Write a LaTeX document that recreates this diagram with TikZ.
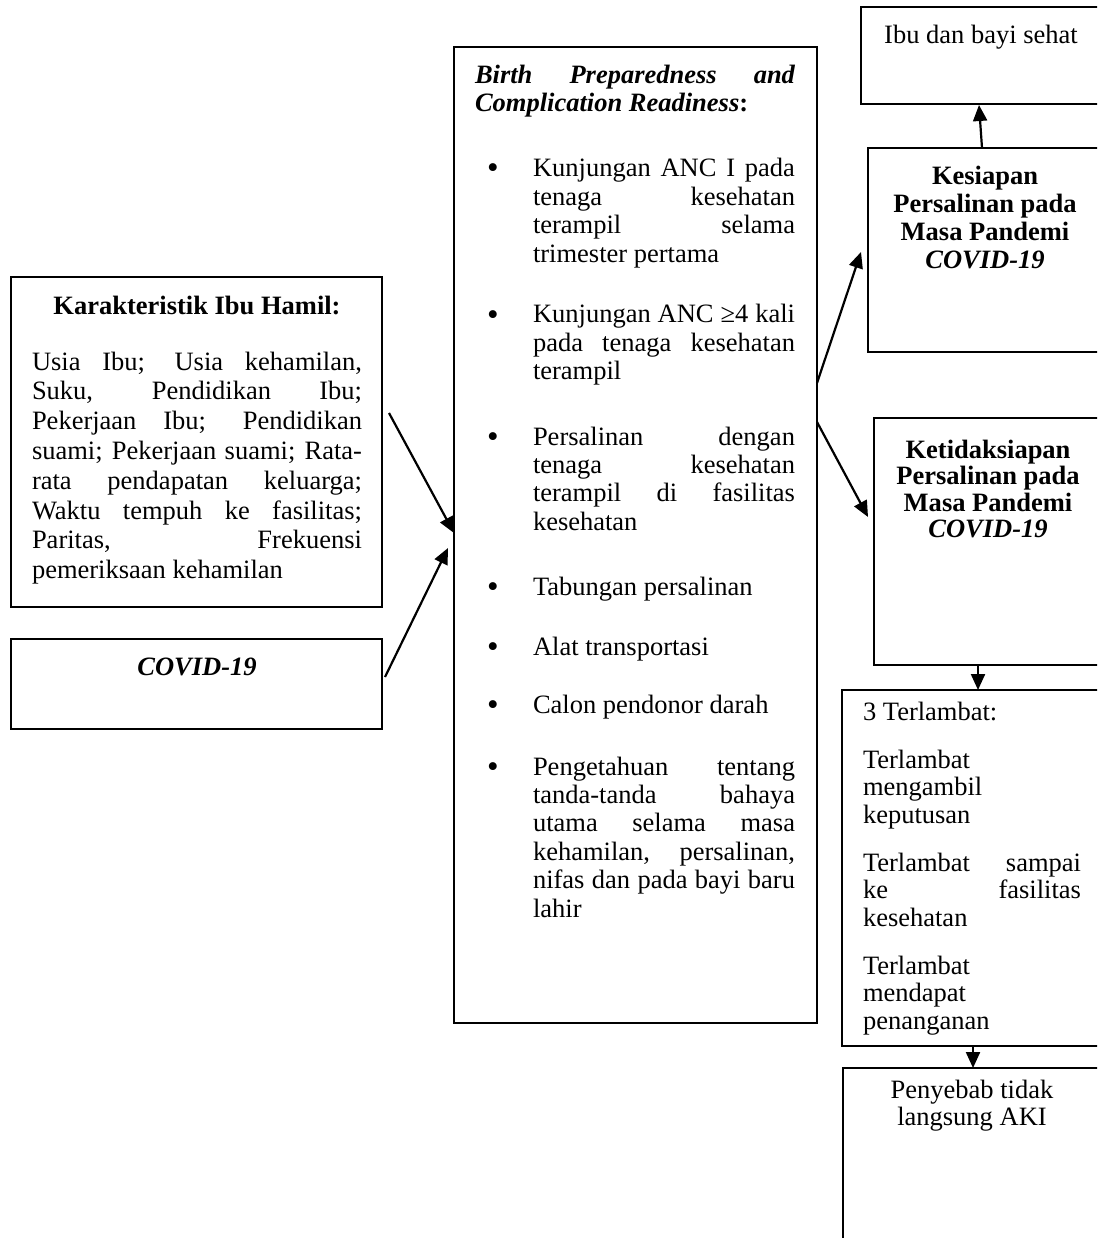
\documentclass[tikz,border=0pt]{standalone}
\usepackage{fontspec}
\setmainfont{Liberation Serif}
\usetikzlibrary{arrows.meta,calc}
\newcommand{\jl}[1]{\makebox[\linewidth][s]{#1}\\}
\newcommand{\blt}[1]{\makebox[46pt][l]{\raisebox{-2pt}{\fontsize{33pt}{33pt}\selectfont\textbullet}}\parbox[t]{262pt}{\baselineskip=28.4pt #1}}
\begin{document}
\begin{tikzpicture}[x=1pt,y=-1pt,
  font=\fontsize{26.5pt}{28.4pt}\selectfont,
  frame/.style={draw, line width=1.5pt, inner sep=0pt, outer sep=0pt, anchor=north west},
  txt/.style={inner sep=0pt, outer sep=0pt, anchor=base west},
  ctxt/.style={inner sep=0pt, outer sep=0pt, anchor=base},
  arr/.style={line width=2.2pt, -{Triangle[length=16pt,width=14pt]}}]
\useasboundingbox (0,0) rectangle (1097,1238);
\clip (0,0) rectangle (1097,1238);
\fill[white] (0,0) rectangle (1097,1238);

% boxes
\node[frame, minimum width=371, minimum height=330] (kar) at (11,277) {};
\node[frame, minimum width=371, minimum height=90] (cov) at (11,639) {};
\node[frame, minimum width=363, minimum height=976] (mid) at (454,47) {};
\node[frame, minimum width=241, minimum height=97] (ibu) at (861,7) {};
\node[frame, minimum width=234, minimum height=204] (kes) at (868,148) {};
\node[frame, minimum width=228, minimum height=247] (ket) at (874,418) {};
\node[frame, minimum width=260, minimum height=356] (ter) at (842,690) {};
\node[frame, minimum width=259, minimum height=190] (pen) at (843,1068) {};

% left texts
\node[ctxt] (kart) at (197,314) {\bfseries Karakteristik Ibu Hamil:};
\node[txt] (karb) at (32,370) {\parbox[t]{330pt}{\baselineskip=29.8pt
 \jl{Usia Ibu; Usia kehamilan,}
 \jl{Suku, Pendidikan Ibu;}
 \jl{Pekerjaan Ibu; Pendidikan}
 \jl{suami; Pekerjaan suami; Rata-}
 \jl{rata pendapatan keluarga;}
 \jl{Waktu tempuh ke fasilitas;}
 \jl{Paritas, Frekuensi}
 pemeriksaan kehamilan}};
\node[ctxt] (covt) at (197,675) {\bfseries\itshape COVID-19};

% middle texts
\node[txt] (midt) at (475,84) {\parbox[t]{320pt}{\baselineskip=28pt\bfseries\itshape
 \jl{Birth Preparedness and}Complication Readiness\upshape:}};
\node[txt] (i1) at (487,177) {\blt{\jl{Kunjungan ANC I pada}\jl{tenaga kesehatan}\jl{terampil selama}trimester pertama}};
\node[txt] (i2) at (487,323) {\blt{\jl{Kunjungan ANC ≥4 kali}\jl{pada tenaga kesehatan}terampil}};
\node[txt] (i3) at (487,445) {\blt{\jl{Persalinan dengan}\jl{tenaga kesehatan}\jl{terampil di fasilitas}kesehatan}};
\node[txt] (i4) at (487,595) {\blt{Tabungan persalinan}};
\node[txt] (i5) at (487,655) {\blt{Alat transportasi}};
\node[txt] (i6) at (487,713) {\blt{Calon pendonor darah}};
\node[txt] (i7) at (487,775) {\blt{\jl{Pengetahuan tentang}\jl{tanda-tanda bahaya}\jl{utama selama masa}\jl{kehamilan, persalinan,}\jl{nifas dan pada bayi baru}lahir}};

% right texts
\node[ctxt] (ibut) at (981,44) {Ibu dan bayi sehat};
\node[ctxt] (kest) at (985,185) {\parbox[t]{230pt}{\centering\baselineskip=27.7pt\bfseries
 Kesiapan\\Persalinan pada\\Masa Pandemi\\\itshape COVID-19}};
\node[ctxt] (kett) at (988,458) {\parbox[t]{226pt}{\centering\baselineskip=26.5pt\bfseries
 Ketidaksiapan\\Persalinan pada\\Masa Pandemi\\\itshape COVID-19}};
\node[txt] (tert) at (863,720) {\parbox[t]{218pt}{\baselineskip=27.5pt\parskip=20.5pt
 3 Terlambat:\par
 Terlambat\\mengambil\\keputusan\par
 \jl{Terlambat sampai}\jl{ke fasilitas}kesehatan\par
 Terlambat\\mendapat\\penanganan}};
\node[ctxt] (pent) at (972,1098) {\parbox[t]{250pt}{\centering\baselineskip=27pt
 Penyebab tidak\\langsung AKI}};

% connectors
\draw[arr] ($(kar.north east)+(7,136)$) -- ($(mid.north west)+(0,486)$);
\draw[arr] ($(cov.north east)+(3,38)$) -- ($(mid.north west)+(-6,501)$);
\draw[arr] ($(mid.north east)+(0,336)$) -- ($(kes.north west)+(-7,104)$);
\draw[arr] ($(mid.north east)+(0,375)$) -- ($(ket.north west)+(-6,99)$);
\draw[arr] ($(kes.north west)+(114,0)$) -- ($(ibu.south west)+(118,1)$);
\draw[arr] ($(ket.south west)+(104,0)$) -- ($(ter.north west)+(136,0)$);
\draw[arr] ($(ter.south west)+(131,0)$) -- ($(pen.north west)+(130,0)$);
\end{tikzpicture}
\end{document}
